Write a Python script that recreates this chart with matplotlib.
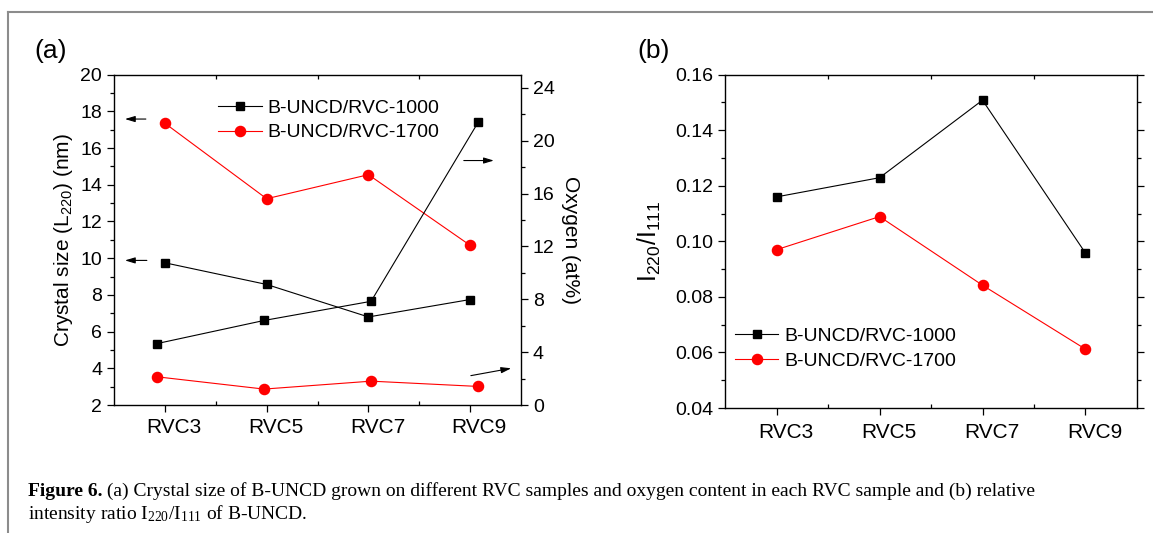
import numpy as np
import matplotlib
matplotlib.use('Agg')
import matplotlib.pyplot as plt
import matplotlib.transforms as mtransforms
from matplotlib.ticker import MultipleLocator, FormatStrFormatter
from matplotlib.lines import Line2D

plt.rcParams['font.family'] = ['Liberation Sans', 'DejaVu Sans']
plt.rcParams['mathtext.fontset'] = 'custom'
plt.rcParams['mathtext.rm'] = 'Liberation Sans'

# data
samples = ['RVC3', 'RVC5', 'RVC7', 'RVC9']
size_1000 = [9.75, 8.57, 6.8, 7.75]
size_1700 = [17.35, 13.24, 14.55, 10.7]
oxy_1000 = [4.65, 6.4, 7.85, 21.4]
oxy_1700 = [2.14, 1.21, 1.81, 1.41]
ratio_1000 = [0.116, 0.1229, 0.1508, 0.0958]
ratio_1700 = [0.097, 0.1089, 0.0842, 0.0612]
lab_1000 = 'B-UNCD/RVC-1000'
lab_1700 = 'B-UNCD/RVC-1700'

x = np.arange(len(samples))
fs_y = 14
fs_x = 15
fs_leg = 14
sq = dict(color='black', marker='s', ms=6.3, lw=0.8)
ci = dict(color='red', marker='o', ms=7.3, lw=0.8)

fig = plt.figure(figsize=(11.53, 5.33), dpi=100)

def style(ax):
    ax.tick_params(which='both', width=0.9)
    ax.tick_params(axis='y', labelsize=fs_y)
    ax.tick_params(axis='x', labelsize=fs_x)
    ax.tick_params(which='major', length=5)
    ax.tick_params(which='minor', length=3)
    for s in ax.spines.values():
        s.set_linewidth(1.0)

def shift_xlabels(ax, dx):
    off = mtransforms.ScaledTranslation(dx / 100, 0, fig.dpi_scale_trans)
    for lbl in ax.get_xticklabels():
        lbl.set_transform(lbl.get_transform() + off)

# ---- panel (a)
ax = fig.add_axes([0.0989, 0.240, 0.353, 0.620])
ax.plot(x, size_1000, **sq)
ax.plot(x, size_1700, **ci)
ax.set_xlim(-0.5, 3.5)
ax.set_ylim(2, 20)
ax.yaxis.set_major_locator(MultipleLocator(2))
ax.yaxis.set_minor_locator(MultipleLocator(1))
ax.set_xticks(x)
ax.set_xticklabels(samples)
ax.set_xticks(x[:-1] + 0.5, minor=True)
ax.tick_params(axis='x', which='minor', direction='in', top=True)
ax.tick_params(axis='x', which='major', pad=4)
style(ax)
ax.set_ylabel('Crystal size (L$_{220}$) (nm)', fontsize=15, labelpad=4)
shift_xlabels(ax, 9)

ax2 = fig.add_axes(ax.get_position(), frameon=False)
ax2.plot(x, oxy_1000, **sq)
ax2.plot(x, oxy_1700, **ci)
ax2.set_xlim(-0.4, 3.4)
ax2.set_ylim(0, 25)
ax2.xaxis.set_visible(False)
ax2.yaxis.tick_right()
ax2.yaxis.set_label_position('right')
ax2.yaxis.set_major_locator(MultipleLocator(4))
ax2.yaxis.set_minor_locator(MultipleLocator(2))
style(ax2)
ax2.set_ylabel('Oxygen (at%)', fontsize=15, rotation=-90, labelpad=18)

arr = dict(arrowstyle='-|>,head_length=0.6,head_width=0.18', color='black', lw=0.8)
ax.annotate('', xy=(-0.42, 17.58), xytext=(-0.16, 17.58), arrowprops=arr)
ax.annotate('', xy=(-0.42, 9.88), xytext=(-0.15, 9.88), arrowprops=arr)
mix = mtransforms.blended_transform_factory(ax.transData, ax2.transData)
ax2.annotate('', xy=(3.26, 18.5), xytext=(2.91, 18.5), xycoords=mix, textcoords=mix,
             arrowprops=arr)
ax2.annotate('', xy=(3.43, 2.82), xytext=(2.98, 2.19), xycoords=mix, textcoords=mix,
             arrowprops=arr)

handles = [Line2D([], [], **sq), Line2D([], [], **ci)]
ax2.legend(handles, [lab_1000, lab_1700], loc='upper left', bbox_to_anchor=(0.255, 0.925),
           frameon=False, fontsize=fs_leg, handlelength=2.25, handletextpad=0.3,
           labelspacing=0.35, borderpad=0, borderaxespad=0)

fig.text(0.030, 0.905, '(a)', fontsize=19, va='center')

# ---- panel (b)
bx = fig.add_axes([0.629, 0.2345, 0.357, 0.6255])
bx.plot(x, ratio_1000, label=lab_1000, **sq)
bx.plot(x, ratio_1700, label=lab_1700, **ci)
bx.set_xlim(-0.5, 3.5)
bx.set_ylim(0.04, 0.16)
bx.yaxis.set_major_locator(MultipleLocator(0.02))
bx.yaxis.set_minor_locator(MultipleLocator(0.01))
bx.yaxis.set_major_formatter(FormatStrFormatter('%.2f'))
bx.set_xticks(x)
bx.set_xticklabels(samples)
bx.set_xticks(x[:-1] + 0.5, minor=True)
bx.tick_params(axis='x', which='major', pad=6)
bx.tick_params(axis='x', which='minor', direction='in', top=True)
bx.tick_params(axis='y', which='both', right=True)
style(bx)
for t in bx.yaxis.get_ticklines(minor=False)[1::2]:
    t.set_marker(matplotlib.markers.TICKRIGHT)
for t in bx.yaxis.get_ticklines(minor=True)[1::2]:
    t.set_marker(matplotlib.markers.TICKRIGHT)
bx.set_ylabel('I$_{220}$/I$_{111}$', fontsize=18, labelpad=9)
shift_xlabels(bx, 9)
bx.legend(loc='lower left', bbox_to_anchor=(0.023, 0.115), frameon=False, fontsize=fs_leg,
          handlelength=2.25, handletextpad=0.3, labelspacing=0.35,
          borderpad=0, borderaxespad=0)
fig.text(0.553, 0.905, '(b)', fontsize=19, va='center')

# ---- frame and caption
fig.add_artist(Line2D([0.007, 1.0], [0.977, 0.977], color='#8c8c8c', lw=1.5))
fig.add_artist(Line2D([0.007, 0.007], [0.0, 0.977], color='#8c8c8c', lw=1.5))

cap_font = ['Liberation Serif', 'DejaVu Serif']
t1 = fig.text(0.024, 0.069, 'Figure 6.', family=cap_font, fontweight='bold', fontsize=14)
fig.add_artist(matplotlib.text.Annotation(
    ' (a) Crystal size of B-UNCD grown on different RVC samples and oxygen content '
    'in each RVC sample and (b) relative',
    xy=(1, 0), xycoords=t1, va='bottom', family=cap_font, fontsize=14,
    annotation_clip=False))
fig.text(0.024, 0.027, 'intensity ratio $\\mathregular{I_{220}/I_{111}}$ of B-UNCD.',
         family=cap_font, fontsize=14)

fig.savefig('out.png', dpi=100)
